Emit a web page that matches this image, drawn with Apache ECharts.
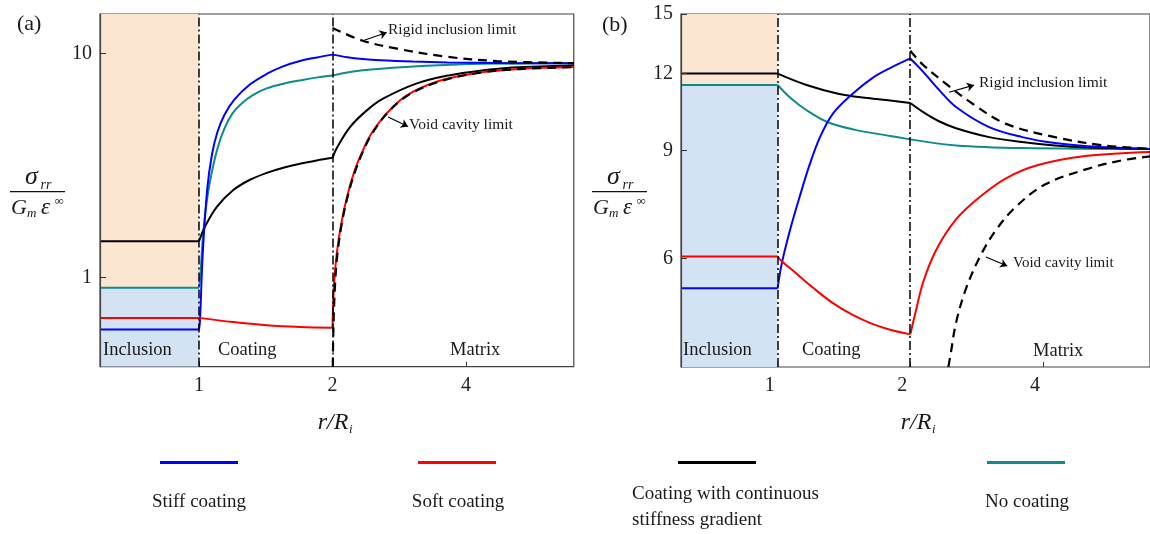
<!DOCTYPE html>
<html>
<head>
<meta charset="utf-8">
<script src="https://cdn.jsdelivr.net/npm/echarts@6/dist/echarts.min.js"></script>
<style>
html, body { margin: 0; padding: 0; background: #fff; }
#chart { width: 1150px; height: 534px; }
</style>
</head>
<body>
<div id="chart"></div>
<script>
// axis ticks (r/R_i is linear inside the inclusion, log2 outside)
const xTicks = [1, 2, 4]
const xTickLabels = ['1', '2', '4']
const rMax = 7
const yTicksA = [1, 10]
const yTicksB = [6, 9, 12, 15]
const yRangeA = [0.4, 15]
const yRangeB = [4, 15]

const legendNames = ['Stiff coating', 'Soft coating', 'Coating with continuous stiffness gradient', 'No coating']
const legendLabels = ['Stiff coating', 'Soft coating', 'Coating with continuous\nstiffness gradient', 'No coating']

// panel (a): [r/R_i, sigma_rr / (G_m eps)]
const stiffA = [[0, 0.586], [1, 0.586], [1.005, 0.64], [1.02, 1.3], [1.044, 2.5], [1.07, 3.55], [1.1, 4.45], [1.14, 5.3], [1.2, 6.2], [1.3, 7.25], [1.424, 8.12], [1.547, 8.76], [1.69, 9.25], [1.846, 9.6], [2.0, 9.88], [2.16, 9.62], [2.34, 9.45], [2.56, 9.33], [3.04, 9.2], [3.63, 9.12], [5.1, 9.05], [7, 9.03]]
const softA = [[0, 0.66], [1, 0.66], [1.193, 0.632], [1.421, 0.612], [1.689, 0.601], [2, 0.596], [2.014, 0.905], [2.045, 1.28], [2.1, 1.8], [2.17, 2.4], [2.25, 3.05], [2.35, 3.75], [2.45, 4.4], [2.65, 5.4], [2.94, 6.5], [3.49, 7.55], [4.3, 8.22], [5.3, 8.53], [7, 8.69]]
const gradedA = [[0, 1.45], [1, 1.45], [1.01, 1.53], [1.032, 1.69], [1.096, 2.06], [1.193, 2.45], [1.303, 2.73], [1.421, 2.93], [1.549, 3.09], [1.689, 3.22], [1.843, 3.33], [2.0, 3.42], [2.045, 3.78], [2.19, 4.69], [2.39, 5.57], [2.6, 6.28], [3.1, 7.35], [3.68, 8.0], [4.3, 8.38], [5.1, 8.66], [7, 8.84]]
const noCoatA = [[0, 0.9], [1, 0.9], [1.007, 1.02], [1.02, 1.5], [1.04, 2.15], [1.065, 2.85], [1.1, 3.75], [1.14, 4.6], [1.19, 5.4], [1.25, 6.0], [1.32, 6.5], [1.42, 6.98], [1.55, 7.33], [1.7, 7.6], [1.85, 7.82], [2.0, 7.98], [2.34, 8.41], [3.04, 8.74], [3.94, 8.95], [5.2, 9.02], [7, 9.04]]
const voidA = [[2.003, 0.4], [2.01, 0.6], [2.025, 0.9], [2.05, 1.25], [2.1, 1.75], [2.17, 2.35], [2.25, 2.98], [2.35, 3.7], [2.45, 4.35], [2.65, 5.38], [2.94, 6.45], [3.49, 7.5], [4.3, 8.2], [5.3, 8.52], [7, 8.68]]
const rigidA = [[2.0, 13.0], [2.34, 11.4], [2.8, 10.5], [3.6, 9.68], [4.7, 9.25], [7, 9.05]]

// panel (b)
const stiffB = [[0, 5.37], [1, 5.37], [1.021, 5.88], [1.068, 6.7], [1.124, 7.6], [1.18, 8.5], [1.247, 9.45], [1.335, 10.33], [1.48, 11.13], [1.64, 11.8], [1.8, 12.25], [2.0, 12.7], [2.14, 12.08], [2.33, 11.27], [2.54, 10.59], [3.02, 9.82], [3.59, 9.46], [4.26, 9.25], [5.05, 9.14], [7, 9.05]]
const softB = [[0, 6.05], [1, 6.05], [1.02, 5.95], [1.086, 5.73], [1.204, 5.38], [1.335, 5.08], [1.48, 4.86], [1.64, 4.7], [1.8, 4.6], [2.0, 4.52], [2.05, 4.87], [2.14, 5.5], [2.29, 6.2], [2.54, 6.95], [2.87, 7.55], [3.29, 8.1], [3.9, 8.52], [5.05, 8.82], [7, 8.95]]
const gradedB = [[0, 12.0], [1, 12.0], [1.163, 11.5], [1.38, 11.12], [1.6, 10.95], [1.8, 10.85], [2.0, 10.75], [2.14, 10.39], [2.33, 10.03], [2.54, 9.78], [3.02, 9.46], [3.59, 9.29], [4.26, 9.17], [5.05, 9.1], [7, 9.05]]
const noCoatB = [[0, 11.5], [1, 11.5], [1.07, 10.95], [1.163, 10.46], [1.3, 10.0], [1.5, 9.72], [1.8, 9.5], [2.0, 9.38], [2.54, 9.17], [3.59, 9.08], [7, 9.05]]
const voidB = [[2.44, 4.0], [2.47, 4.2], [2.54, 4.72], [2.68, 5.38], [2.89, 6.08], [3.13, 6.68], [3.46, 7.27], [4.04, 7.92], [5.05, 8.4], [5.99, 8.66], [7, 8.8]]
const rigidB = [[2.0, 13.07], [2.14, 12.39], [2.46, 11.42], [2.77, 10.72], [3.29, 9.95], [4.26, 9.46], [5.5, 9.17], [7, 9.06]]

// annotation arrows, data units
const arrowsA = [[[2.34, 11.4], [2.65, 12.4]], [[2.67, 5.2], [2.96, 4.72]]]
const arrowsB = [[[2.45, 11.19], [2.79, 11.49]], [[2.97, 6.04], [3.32, 5.84]]]

const colors = ['#0000ff', '#ff0000', '#000000', '#0e8c8c']
const serif = 'Liberation Serif'
const K = [133.5 / 99, 134.5 / 98]
const PX = [99, 98]

function uOf(r, k) {
  return r <= 1 ? r : 1 + k * Math.log2(r)
}

const chart = echarts.init(document.getElementById('chart'))

function curveSeries(idx, name, pts, color, dashed) {
  // split at r=1 and r=2 so the kinks stay sharp
  const segs = []
  ;[[0, 1], [1, 2], [2, Infinity]].forEach(([lo, hi]) => {
    const seg = pts.filter(p => p[0] >= lo && p[0] <= hi)
    if (seg.length > 1) segs.push(seg)
  })
  return segs.map(seg => ({
    name: name,
    type: 'line',
    xAxisIndex: idx,
    yAxisIndex: idx,
    data: seg.map(p => [uOf(p[0], K[idx]), p[1]]),
    symbol: 'none',
    showSymbol: false,
    smooth: 0.35,
    color: color,
    lineStyle: { color: color, width: dashed ? 2.2 : 2, type: dashed ? [9, 6] : 'solid' },
    silent: true,
    z: dashed ? 4 : 3
  }))
}

function helperSeries(idx, yRange, split, arrows) {
  const k = K[idx]
  return [{
    type: 'line',
    xAxisIndex: idx,
    yAxisIndex: idx,
    data: [],
    symbol: 'none',
    silent: true,
    z: 1,
    markArea: {
      silent: true,
      data: [
        [{ xAxis: 0, yAxis: split, itemStyle: { color: '#fce6d1' } }, { xAxis: 1, yAxis: yRange[1] }],
        [{ xAxis: 0, yAxis: yRange[0], itemStyle: { color: '#d3e3f4' } }, { xAxis: 1, yAxis: split }]
      ]
    }
  }, {
    type: 'line',
    xAxisIndex: idx,
    yAxisIndex: idx,
    data: [],
    symbol: 'none',
    silent: true,
    z: 5,
    markLine: {
      silent: true,
      symbol: ['none', 'none'],
      label: { show: false },
      lineStyle: { color: '#000', width: 1.5, type: [9, 3, 2, 3] },
      data: [{ xAxis: uOf(1, k) }, { xAxis: uOf(2, k) }]
    }
  }, {
    type: 'line',
    xAxisIndex: idx,
    yAxisIndex: idx,
    data: [],
    symbol: 'none',
    silent: true,
    z: 5,
    markLine: {
      silent: true,
      symbol: ['none', 'arrow'],
      symbolSize: 7,
      label: { show: false },
      lineStyle: { color: '#000', width: 1.2, type: 'solid' },
      data: arrows.map(a => [{ coord: [uOf(a[0][0], k), a[0][1]] }, { coord: [uOf(a[1][0], k), a[1][1]] }])
    }
  }]
}

function xAxisFor(idx) {
  const k = K[idx]
  const vals = xTicks.map(t => uOf(t, k))
  return {
    type: 'value',
    gridIndex: idx,
    min: 0,
    max: uOf(rMax, k),
    splitLine: { show: false },
    axisLine: { show: false },
    axisTick: { inside: true, length: 5, customValues: vals, lineStyle: { color: '#333' } },
    axisLabel: {
      customValues: vals,
      margin: 9,
      fontFamily: serif,
      fontSize: 20,
      color: '#222',
      padding: idx === 1 ? [0, 16, 0, 0] : 0,
      formatter: v => {
        const i = vals.findIndex(u => Math.abs(u - v) < 1e-6)
        return i >= 0 ? xTickLabels[i] : ''
      }
    }
  }
}

function yAxisFor(idx, range, ticks) {
  return {
    type: 'log',
    logBase: 10,
    gridIndex: idx,
    min: range[0],
    max: range[1],
    z: 6,
    splitLine: { show: false },
    axisLine: { show: true, lineStyle: { color: '#444', width: 1.2 } },
    axisTick: { inside: true, length: 6, customValues: ticks, lineStyle: { color: '#333' } },
    axisLabel: {
      customValues: ticks,
      margin: 8,
      fontFamily: serif,
      fontSize: 20,
      color: '#222',
      formatter: v => String(Math.round(v))
    }
  }
}

function text(x, y, str, opts) {
  return {
    type: 'text',
    x: x,
    y: y,
    z: 100,
    silent: true,
    style: Object.assign({
      text: str,
      fontFamily: serif,
      fontSize: 18,
      fill: '#1a1a1a',
      align: 'left',
      verticalAlign: 'middle'
    }, opts || {})
  }
}

function fraction(cx) {
  const it = { fontStyle: 'italic', align: 'center' }
  return [
    text(cx - 6, 177, 'σ', Object.assign({ fontSize: 26 }, it)),
    text(cx + 3, 185, 'rr', { fontStyle: 'italic', fontSize: 14 }),
    { type: 'line', z: 100, silent: true, shape: { x1: cx - 27.5, y1: 191.7, x2: cx + 27.5, y2: 191.7 }, style: { stroke: '#111', lineWidth: 1.2 } },
    text(cx - 18.5, 208, 'G', Object.assign({ fontSize: 22 }, it)),
    text(cx - 10.5, 214, 'm', { fontStyle: 'italic', fontSize: 13 }),
    text(cx + 8, 208, 'ε', Object.assign({ fontSize: 23 }, it)),
    text(cx + 17, 202, '∞', { fontSize: 13 })
  ]
}

function axisName(cx) {
  return [
    text(cx - 2, 423, 'r/R', { fontStyle: 'italic', fontSize: 24, align: 'center' }),
    text(cx + 14, 430, 'i', { fontStyle: 'italic', fontSize: 13 })
  ]
}

const legendX = [160, 418, 678, 987]
const graphic = [
  text(17, 24, '(a)', { fontSize: 22 }),
  text(602, 25, '(b)', { fontSize: 22 }),
  text(103, 350, 'Inclusion', { fontSize: 18.5 }),
  text(218, 350, 'Coating', { fontSize: 18.5 }),
  text(450, 350, 'Matrix', { fontSize: 18.5 }),
  text(683, 350, 'Inclusion', { fontSize: 18.5 }),
  text(802, 350, 'Coating', { fontSize: 18.5 }),
  text(1033, 351, 'Matrix', { fontSize: 18.5 }),
  text(388, 30, 'Rigid inclusion limit', { fontSize: 15.5 }),
  text(409, 125, 'Void cavity limit', { fontSize: 15.5 }),
  text(979, 83, 'Rigid inclusion limit', { fontSize: 15.5 }),
  text(1013, 263, 'Void cavity limit', { fontSize: 15 }),
  ...fraction(37.5),
  ...fraction(619.5),
  ...axisName(335),
  ...axisName(918),
  text(199, 502, legendLabels[0], { fontSize: 19, align: 'center' }),
  text(458, 502, legendLabels[1], { fontSize: 19, align: 'center' }),
  text(632, 507, legendLabels[2], { fontSize: 19, lineHeight: 26 }),
  text(1027, 502, legendLabels[3], { fontSize: 19, align: 'center' })
]

const series = [
  ...helperSeries(0, yRangeA, noCoatA[0][1], arrowsA),
  ...helperSeries(1, yRangeB, noCoatB[0][1], arrowsB),
  ...curveSeries(0, legendNames[3], noCoatA, colors[3]),
  ...curveSeries(0, legendNames[2], gradedA, colors[2]),
  ...curveSeries(0, legendNames[0], stiffA, colors[0]),
  ...curveSeries(0, legendNames[1], softA, colors[1]),
  ...curveSeries(0, 'Void cavity limit', voidA, '#000', true),
  ...curveSeries(0, 'Rigid inclusion limit', rigidA, '#000', true),
  ...curveSeries(1, legendNames[3], noCoatB, colors[3]),
  ...curveSeries(1, legendNames[2], gradedB, colors[2]),
  ...curveSeries(1, legendNames[0], stiffB, colors[0]),
  ...curveSeries(1, legendNames[1], softB, colors[1]),
  ...curveSeries(1, 'Void cavity limit', voidB, '#000', true),
  ...curveSeries(1, 'Rigid inclusion limit', rigidB, '#000', true)
]

const option = {
  animation: false,
  backgroundColor: '#fff',
  grid: [
    { left: 100, top: 14, width: PX[0] * uOf(rMax, K[0]), height: 352.6, show: true, borderColor: '#444', borderWidth: 1.2, containLabel: false },
    { left: 681, top: 14, width: PX[1] * uOf(rMax, K[1]), height: 353, show: true, borderColor: '#444', borderWidth: 1.2, containLabel: false }
  ],
  xAxis: [xAxisFor(0), xAxisFor(1)],
  yAxis: [yAxisFor(0, yRangeA, yTicksA), yAxisFor(1, yRangeB, yTicksB)],
  legend: legendNames.map((n, i) => ({
    data: [n],
    left: legendX[i],
    top: 461,
    icon: 'rect',
    itemWidth: 78,
    itemHeight: 3,
    itemGap: 0,
    padding: 0,
    selectedMode: false,
    formatter: () => '',
    textStyle: { fontSize: 1 }
  })),
  graphic: graphic,
  series: series
}

chart.setOption(option)
</script>
</body>
</html>
